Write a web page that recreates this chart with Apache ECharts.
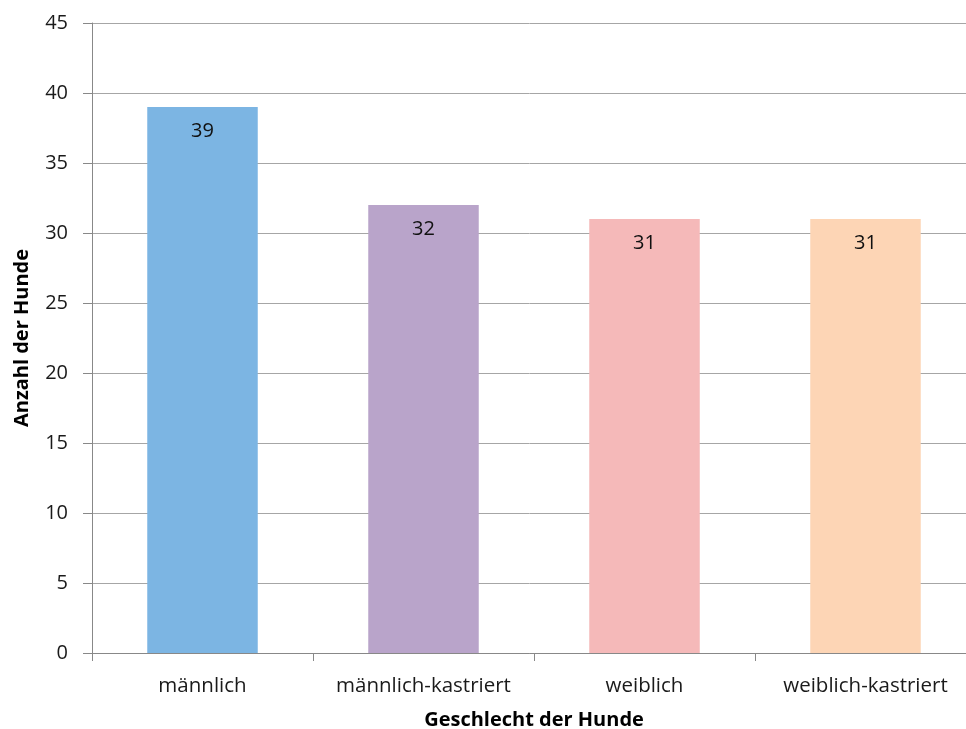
<!DOCTYPE html>
<html>
<head>
<meta charset="utf-8">
<script src="https://cdn.jsdelivr.net/npm/echarts@6/dist/echarts.min.js"></script>
<style>
  html, body { margin: 0; padding: 0; background: #fff; }
  #main { width: 966px; height: 729px; }
</style>
</head>
<body>
<div id="main"></div>
<script>
// Kategorien und Werte
var categories = ['männlich', 'männlich-kastriert', 'weiblich', 'weiblich-kastriert'];
var counts = [39, 32, 31, 31];
var barColors = ['#7cb5e3', '#b9a4ca', '#f5b9b9', '#fdd5b5'];
var yTicks = [0, 5, 10, 15, 20, 25, 30, 35, 40, 45];

var font = '"Open Sans", "Noto Sans", sans-serif';

var myChart = echarts.init(document.getElementById('main'));

var barData = [];
for (var i = 0; i < counts.length; i++) {
  barData.push({ value: counts[i], itemStyle: { color: barColors[i] } });
}

var option = {
  animation: false,
  backgroundColor: '#fff',
  grid: { left: 92, right: -10, top: 23, bottom: 76, containLabel: false, outerBoundsMode: 'none' },
  xAxis: {
    type: 'category',
    data: categories,
    name: 'Geschlecht der Hunde',
    nameLocation: 'middle',
    nameGap: 57,
    nameTextStyle: { fontFamily: font, fontWeight: 'bold', fontSize: 20, color: '#000' },
    axisLine: { lineStyle: { color: '#888', width: 1 } },
    axisTick: { show: true, interval: 0, length: 8, lineStyle: { color: '#888' } },
    axisLabel: { interval: 0, hideOverlap: false, fontFamily: font, fontSize: 20.5, color: '#1a1a1a', margin: 23 }
  },
  yAxis: {
    type: 'value',
    min: yTicks[0],
    max: yTicks[yTicks.length - 1],
    interval: 5,
    name: 'Anzahl der Hunde',
    nameLocation: 'middle',
    nameGap: 60,
    nameTextStyle: { fontFamily: font, fontWeight: 'bold', fontSize: 20, color: '#000' },
    axisLine: { show: true, lineStyle: { color: '#888', width: 1 } },
    axisTick: { show: true, length: 9, lineStyle: { color: '#888' } },
    axisLabel: { fontFamily: font, fontSize: 20, color: '#1a1a1a', margin: 24 },
    splitLine: { lineStyle: { color: '#a6a6a6', width: 1 } }
  },
  series: [{
    type: 'bar',
    data: barData,
    barWidth: '50%',
    label: {
      show: true,
      position: 'insideTop',
      distance: 14,
      fontFamily: font,
      fontSize: 20,
      color: '#111'
    }
  }]
};

myChart.setOption(option);
</script>
</body>
</html>
